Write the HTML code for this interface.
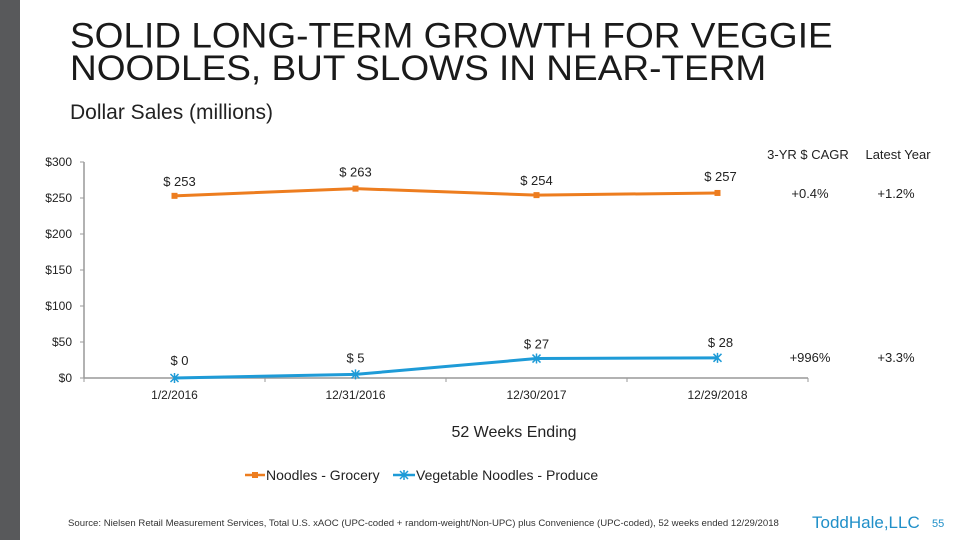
<!DOCTYPE html>
<html><head><meta charset="utf-8"><style>
body{margin:0;width:960px;height:540px;overflow:hidden;background:#fff;font-family:"Liberation Sans",sans-serif;position:relative}
.t{position:absolute;white-space:nowrap}
</style></head><body>
<div style="position:absolute;left:0;top:0;width:20px;height:540px;background:#58595b"></div>
<div class="t" style="left:70px;top:20px;font-size:37px;line-height:34px;color:#1a1a1a;transform:scaleY(0.95);transform-origin:top left">SOLID LONG-TERM GROWTH FOR VEGGIE<br>NOODLES, BUT SLOWS IN NEAR-TERM</div>
<div class="t" style="left:70px;top:101px;font-size:21px;color:#222">Dollar Sales (millions)</div>
<svg id="c" width="960" height="540" style="position:absolute;left:0;top:0"></svg>
<div class="t" style="left:68px;top:518px;font-size:9.6px;color:#333">Source: Nielsen Retail Measurement Services, Total U.S. xAOC (UPC-coded + random-weight/Non-UPC) plus Convenience (UPC-coded), 52 weeks ended 12/29/2018</div>
<div class="t" style="left:812px;top:513px;font-size:17px;color:#1f8fc8">ToddHale,LLC</div>
<div class="t" style="left:932px;top:518px;font-size:11px;color:#1f8fc8">55</div>
<script>
const categories=["1/2/2016","12/31/2016","12/30/2017","12/29/2018"];
const grocery=[253,263,254,257];
const produce=[0,5,27,28];
const yTicks=[0,50,100,150,200,250,300];
const seriesNames=["Noodles - Grocery","Vegetable Noodles - Produce"];
const cagr=["+0.4%","+996%"];
const latest=["+1.2%","+3.3%"];
const NS="http://www.w3.org/2000/svg",svg=document.getElementById('c');
function el(t,a,txt){const e=document.createElementNS(NS,t);for(const k in a)e.setAttribute(k,a[k]);if(txt!=null)e.textContent=txt;svg.appendChild(e);return e;}
const x0=84,cw=181,y0=378,ys=216/300;
const X=i=>x0+cw*(i+0.5), Y=v=>y0-v*ys;
let e=el('line',{x1:x0,y1:Y(0),x2:x0,y2:Y(300),stroke:'#999','stroke-width':1.5});

e=el('line',{x1:x0,y1:y0,x2:x0+cw*4,y2:y0,stroke:'#999','stroke-width':1.5});

yTicks.forEach(v=>{
 let l=el('line',{x1:x0-4,y1:Y(v),x2:x0,y2:Y(v),stroke:'#999'});
 
 let t=el('text',{x:x0-12,y:Y(v)+4,'text-anchor':'end','font-size':12,fill:'#222'},'$'+v);
 
});
for(let i=0;i<=4;i++){let l=el('line',{x1:x0+cw*i,y1:y0,x2:x0+cw*i,y2:y0+4,stroke:'#999'});
 }
categories.forEach((c,i)=>{let t=el('text',{x:X(i),y:399,'text-anchor':'middle','font-size':12,fill:'#222'},c);
 });
function series(d,col,name,marker,lblDy){
 let p=el('polyline',{points:d.map((v,i)=>X(i)+','+Y(v)).join(' '),fill:'none',stroke:col,'stroke-width':3});
 
 d.forEach((v,i)=>{
  let m;
  if(marker==='sq'){m=el('rect',{x:X(i)-3,y:Y(v)-3,width:6,height:6,fill:col});}
  else{m=el('path',{d:`M${X(i)-4},${Y(v)-4}L${X(i)+4},${Y(v)+4}M${X(i)-4},${Y(v)+4}L${X(i)+4},${Y(v)-4}M${X(i)},${Y(v)-5}V${Y(v)+5}`,stroke:col,'stroke-width':1.5});}
  
  let t=el('text',{x:X(i)+(i==3?3:(i==0?5:0)),y:Y(v)+lblDy[i],'text-anchor':'middle','font-size':13,fill:'#222'},'$ '+v);
  
 });
}
series(grocery,'#ed7d1f','grocery',"sq",[-10,-12,-10,-12]);
series(produce,'#1e9bd7','produce',"x",[-13,-12,-10,-11]);
[["3-YR $ CAGR",808,159],["Latest Year",898,159]].forEach(a=>{let t=el('text',{x:a[1],y:a[2],'text-anchor':'middle','font-size':13,fill:'#222'},a[0]);
 });
[[198,0],[362,1]].forEach(r=>{
 let t=el('text',{x:810,y:r[0],'text-anchor':'middle','font-size':13,fill:'#222'},cagr[r[1]]);
 
 t=el('text',{x:896,y:r[0],'text-anchor':'middle','font-size':13,fill:'#222'},latest[r[1]]);
 
});
let t=el('text',{x:514,y:437,'text-anchor':'middle','font-size':16,fill:'#222'},'52 Weeks Ending');

let l=el('line',{x1:245,y1:475,x2:265,y2:475,stroke:'#ed7d1f','stroke-width':2.5});

l=el('rect',{x:252,y:472,width:6,height:6,fill:'#ed7d1f'});
t=el('text',{x:266,y:480,'font-size':14,fill:'#222'},seriesNames[0]);
l=el('line',{x1:393,y1:475,x2:415,y2:475,stroke:'#1e9bd7','stroke-width':2.5});

l=el('path',{d:'M400,471L408,479M400,479L408,471M404,470V480',stroke:'#1e9bd7','stroke-width':1.5});

t=el('text',{x:416,y:480,'font-size':14,fill:'#222'},seriesNames[1]);
</script>
</body></html>
